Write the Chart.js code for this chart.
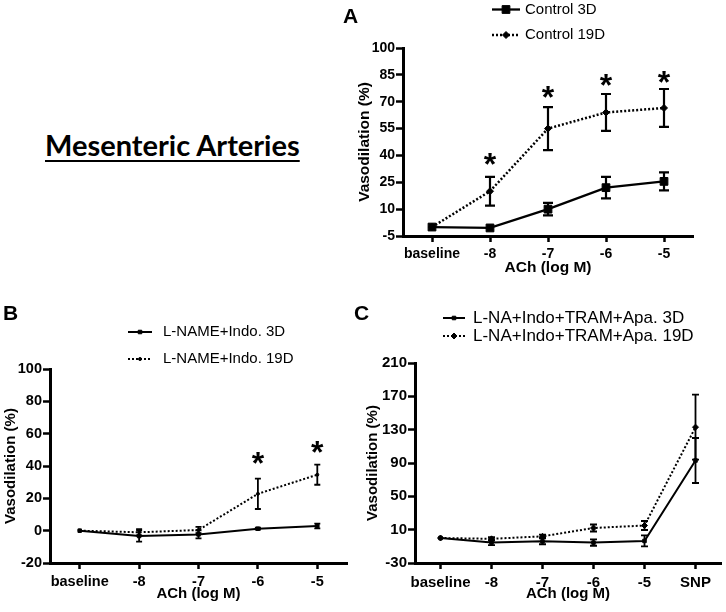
<!DOCTYPE html>
<html>
<head>
<meta charset="utf-8">
<script src="https://cdn.jsdelivr.net/npm/chart.js@4.4.0/dist/chart.umd.min.js"></script>
<style>
  body { margin: 0; width: 726px; height: 612px; position: relative; overflow: hidden; background: #fff; font-family: "Liberation Sans", Arial, sans-serif; }
  .panel { position: absolute; }
  .letter { position: absolute; font-weight: bold; font-size: 21px; line-height: 21px; color: #000; }
  #title { position: absolute; left: 45px; top: 128px; font-family: Lato, sans-serif; font-weight: bold; font-size: 29px; line-height: 34px;
           text-decoration: underline; text-decoration-thickness: 2px; text-underline-offset: 4px; white-space: nowrap; }
</style>
</head>
<body>
<div class="panel" style="left:340px;top:0;width:386px;height:290px"><canvas id="chartA"></canvas></div>
<div class="panel" style="left:0;top:300px;width:360px;height:312px"><canvas id="chartB"></canvas></div>
<div class="panel" style="left:360px;top:300px;width:366px;height:312px"><canvas id="chartC"></canvas></div>
<div id="title">Mesenteric Arteries</div>
<div class="letter" style="left:343px;top:5px">A</div>
<div class="letter" style="left:3px;top:302px">B</div>
<div class="letter" style="left:354px;top:302px">C</div>
<script>
// ---- data ----
const doseLabels = ['baseline', '-8', '-7', '-6', '-5'];
const doseLabelsSnp = ['baseline', '-8', '-7', '-6', '-5', 'SNP'];

// A: control
const ticksA = [-5, 10, 25, 40, 55, 70, 85, 100];
const control3D = [0, -0.5, 10, 22, 25.5];
const control3DErr = [0, 0, 3.5, 6, 5];
const control19D = [0, 20, 55, 64, 66.5];
const control19DErr = [0, 8, 12, 10.3, 10.6];
const starsA = [null, 38, 75.5, 82, 84];

// B: L-NAME + Indo
const ticksB = [-20, 0, 20, 40, 60, 80, 100];
const lname3D = [0, -3.3, -2.3, 1.2, 2.9];
const lname3DErr = [0, 3.5, 2.5, 0.6, 1.5];
const lname19D = [0, -1, 0.4, 22.8, 34.6];
const lname19DErr = [0, 2, 2, 9.4, 6.2];
const starsB = [null, null, null, 45, 52];

// C: L-NA + Indo + TRAM + Apa
const ticksC = [-30, 10, 50, 90, 130, 170, 210];
const tram3D = [0, -5.5, -4, -5.5, -3.5, 93];
const tram3DErr = [0, 3, 3.5, 3.8, 6.6, 27];
const tram19D = [0, -1, 2, 12, 15, 133];
const tram19DErr = [0, 2, 2, 4.2, 5.4, 39];

const FONT = '"Liberation Sans", Arial, sans-serif';

// error bars (mean +/- SEM)
Chart.register({
    id: 'errorBars',
    afterDatasetsDraw(chart, args, opts) {
        if (!opts.cap) return;
        const ctx = chart.ctx;
        const y = chart.scales.y;
        chart.data.datasets.forEach((ds, i) => {
            if (!ds.errors) return;
            const meta = chart.getDatasetMeta(i);
            ctx.save();
            ctx.strokeStyle = '#000';
            ctx.lineWidth = opts.width;
            ctx.setLineDash([]);
            meta.data.forEach((pt, j) => {
                const e = ds.errors[j];
                if (!e) return;
                const top = y.getPixelForValue(ds.data[j] + e);
                const bot = y.getPixelForValue(ds.data[j] - e);
                ctx.beginPath();
                ctx.moveTo(pt.x, top);
                ctx.lineTo(pt.x, bot);
                ctx.moveTo(pt.x - opts.cap, top);
                ctx.lineTo(pt.x + opts.cap, top);
                ctx.moveTo(pt.x - opts.cap, bot);
                ctx.lineTo(pt.x + opts.cap, bot);
                ctx.stroke();
            });
            ctx.restore();
        });
    }
});

// significance asterisks
Chart.register({
    id: 'stars',
    afterDatasetsDraw(chart, args, opts) {
        if (!opts.values) return;
        const ctx = chart.ctx;
        const x = chart.scales.x, y = chart.scales.y;
        ctx.save();
        ctx.font = 'bold ' + opts.size + 'px ' + FONT;
        ctx.textAlign = 'center';
        ctx.textBaseline = 'alphabetic';
        ctx.fillStyle = '#000';
        const m = ctx.measureText('*');
        const shift = (m.actualBoundingBoxAscent - m.actualBoundingBoxDescent) / 2;
        opts.values.forEach((v, i) => {
            if (v === null) return;
            ctx.fillText('*', x.getPixelForValue(i), y.getPixelForValue(v) + shift);
        });
        ctx.restore();
    }
});

// legend drawn as line + marker + label
Chart.register({
    id: 'key',
    afterDraw(chart, args, opts) {
        if (!opts.rows) return;
        const ctx = chart.ctx;
        chart.data.datasets.forEach((ds, i) => {
            const y = opts.rows[i];
            ctx.save();
            ctx.strokeStyle = '#000';
            ctx.fillStyle = '#000';
            ctx.lineWidth = ds.borderWidth;
            ctx.setLineDash(ds.borderDash || []);
            ctx.beginPath();
            ctx.moveTo(opts.x0, y);
            ctx.lineTo(opts.x1, y);
            ctx.stroke();
            ctx.setLineDash([]);
            ctx.lineWidth = 1;
            Chart.helpers.drawPoint(ctx, {
                pointStyle: ds.pointStyle, radius: ds.pointRadius, borderWidth: 1, rotation: 0
            }, (opts.x0 + opts.x1) / 2, y);
            ctx.font = opts.size + 'px ' + FONT;
            ctx.textAlign = 'left';
            ctx.textBaseline = 'middle';
            ctx.fillText(ds.label, opts.tx, y);
            ctx.restore();
        });
    }
});

function lineSet(label, data, errors, dotted, style, radius, width) {
    return {
        label: label,
        data: data,
        errors: errors,
        borderColor: '#000',
        backgroundColor: '#000',
        borderWidth: width,
        borderDash: dotted ? [2, 2] : [],
        pointStyle: style,
        pointRadius: radius,
        pointBorderWidth: 1,
        pointBackgroundColor: '#000',
        pointBorderColor: '#000',
        tension: 0,
        clip: false
    };
}

function makeChart(id, labels, tickValues, datasets, o) {
    const tickFont = { family: FONT, weight: 'bold', size: o.tickSize };
    const titleFont = { family: FONT, weight: 'bold', size: o.titleSize };
    return new Chart(document.getElementById(id), {
        type: 'line',
        data: { labels: labels, datasets: datasets },
        options: {
            responsive: true,
            maintainAspectRatio: false,
            animation: false,
            layout: { padding: { top: o.top, right: o.right, left: 0, bottom: 0 } },
            plugins: {
                legend: { display: false },
                tooltip: { enabled: false },
                errorBars: { cap: o.cap, width: o.errWidth },
                stars: { values: o.stars, size: 32 },
                key: o.key
            },
            scales: {
                x: {
                    type: 'category',
                    offset: true,
                    grid: { offset: false, drawOnChartArea: false, drawTicks: true, tickLength: 6, tickWidth: 2.5, tickColor: '#000' },
                    border: { display: true, color: '#000', width: 3 },
                    ticks: { color: '#000', font: tickFont, padding: o.xPad, maxRotation: 0, autoSkip: false },
                    title: { display: true, text: 'ACh (log M)', color: '#000', font: titleFont, padding: { top: 0, bottom: o.xTitlePad } },
                    afterFit(s) { s.height = o.xHeight; }
                },
                y: {
                    min: tickValues[0],
                    max: tickValues[tickValues.length - 1],
                    afterBuildTicks(s) { s.ticks = tickValues.map(v => ({ value: v })); },
                    grid: { drawOnChartArea: false, drawTicks: true, tickLength: 7, tickWidth: 2.5, tickColor: '#000' },
                    border: { display: true, color: '#000', width: 3 },
                    ticks: { color: '#000', font: tickFont, padding: 1 },
                    title: { display: true, text: 'Vasodilation (%)', color: '#000', font: titleFont, padding: { top: o.yTitlePad, bottom: 0 } },
                    afterFit(s) { s.width = o.yWidth; }
                }
            }
        }
    });
}

makeChart('chartA', doseLabels, ticksA, [
    lineSet('Control 3D', control3D, control3DErr, false, 'rect', 5.5, 2.3),
    lineSet('Control 19D', control19D, control19DErr, true, 'rectRot', 3.5, 2.5)
], {
    top: 48, right: 33, yWidth: 63, xHeight: 54,
    tickSize: 14, titleSize: 15.5, xPad: 4, xTitlePad: 13, yTitlePad: 15,
    cap: 5, errWidth: 2.2, stars: starsA,
    key: { rows: [9.5, 35], x0: 152, x1: 180, tx: 185, size: 15 }
});

makeChart('chartB', doseLabels, ticksB, [
    lineSet('L-NAME+Indo. 3D', lname3D, lname3DErr, false, 'rect', 2.5, 2),
    lineSet('L-NAME+Indo. 19D', lname19D, lname19DErr, true, 'circle', 1.5, 2)
], {
    top: 69, right: 13, yWidth: 50, xHeight: 49,
    tickSize: 14.5, titleSize: 15, xPad: 4, xTitlePad: 9, yTitlePad: 2,
    cap: 3, errWidth: 1.8, stars: starsB,
    key: { rows: [32, 59], x0: 128, x1: 152, tx: 163, size: 15 }
});

makeChart('chartC', doseLabelsSnp, ticksC, [
    lineSet('L-NA+Indo+TRAM+Apa. 3D', tram3D, tram3DErr, false, 'rect', 2.5, 2),
    lineSet('L-NA+Indo+TRAM+Apa. 19D', tram19D, tram19DErr, true, 'rectRot', 3, 2)
], {
    top: 63, right: 3, yWidth: 55, xHeight: 49,
    tickSize: 15, titleSize: 15, xPad: 4.4, xTitlePad: 9, yTitlePad: 4,
    cap: 3.5, errWidth: 1.8, stars: null,
    key: { rows: [18, 36], x0: 83, x1: 105, tx: 113, size: 17 }
});
</script>
</body>
</html>
